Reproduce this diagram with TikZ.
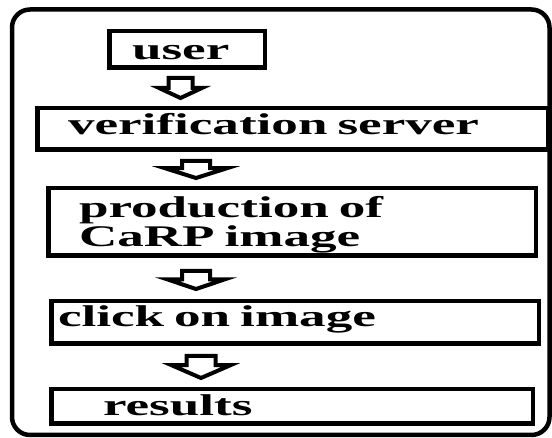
\documentclass[tikz,border=0pt]{standalone}
\usepackage{fontspec}
\newfontfamily\flowfont[FakeStretch=1.77]{Liberation Serif}
\usetikzlibrary{shapes.arrows}

\begin{document}
\begin{tikzpicture}[x=1pt, y=-1pt]
\tikzstyle{stage} = [rectangle, draw = black, line width = 4.5pt, align = left, inner ysep = 0pt,
  font = \flowfont\bfseries\fontsize{30}{29}\selectfont, text height = 21pt]
\tikzstyle{flow} = [single arrow, draw = black, line width = 4pt, rotate = -90,
  inner sep = 0pt, anchor = tail, single arrow tip angle = 135]
\useasboundingbox (0, 0) rectangle (552, 438);
% -----------------------------------
% frame
\draw[line width = 4.5pt, rounded corners = 18pt] (12, 9.5) rectangle (549.5, 435);
% -----------------------------------
% stages
\node[stage, text width = 110pt, inner xsep = 22.75pt, minimum height = 36.5pt, text depth = 0pt] (user) at (187, 49.5) {user};
\node[stage, text width = 449pt, inner xsep = 30.75pt, minimum height = 41.5pt, text depth = 9pt] (server) at (292.5, 129) {verification server};
\node[stage, text width = 426pt, inner xsep = 30.75pt, minimum height = 67.5pt, text depth = 29pt] (carp) at (292, 222) {production of\\CaRP image};
\node[stage, text width = 474pt, inner xsep = 6.75pt, minimum height = 42.5pt, text depth = 12pt] (click) at (295, 322.5) {click on image};
\node[stage, text width = 378pt, inner xsep = 51.75pt, minimum height = 34.5pt, text depth = 2pt] (results) at (292, 406.5) {results};
% -----------------------------------
% arrows
\node[flow, minimum height = 20pt, inner ysep = 10pt, single arrow head extend = 9.5pt, single arrow tip angle = 130] (a1) at (180.5, 76) {};
\node[flow, minimum height = 17pt, inner ysep = 12pt, single arrow head extend = 17.5pt, single arrow tip angle = 145] (a2) at (196, 159) {};
\node[flow, minimum height = 18pt, inner ysep = 12pt, single arrow head extend = 15pt, single arrow tip angle = 143] (a3) at (196, 269) {};
\node[flow, minimum height = 22pt, inner ysep = 12.5pt, single arrow head extend = 15pt, single arrow tip angle = 133] (a4) at (201, 354) {};
% -----------------------------------
\end{tikzpicture}
\end{document}
